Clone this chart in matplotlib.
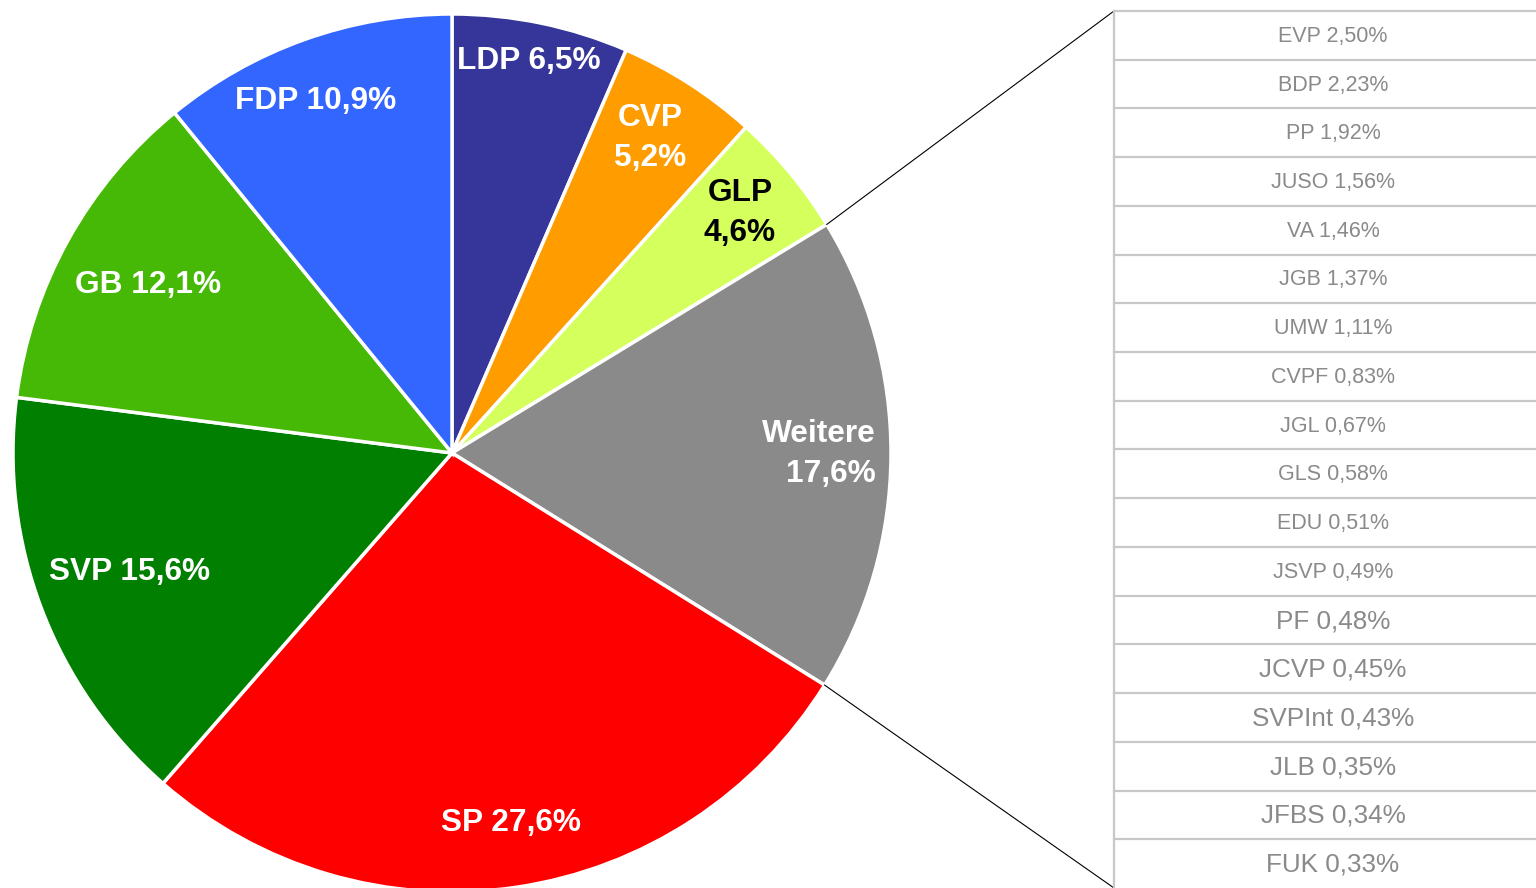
import numpy as np
import matplotlib.pyplot as plt

plt.rcParams['font.family'] = ['Liberation Sans', 'DejaVu Sans']

# Hauptparteien (Uhrzeigersinn ab 12 Uhr)
parties = ['LDP', 'CVP', 'GLP', 'Weitere', 'SP', 'SVP', 'GB', 'FDP']
shares = [6.5, 5.2, 4.6, 17.6, 27.6, 15.6, 12.1, 10.9]
colors = ['#35359A', '#FF9C00', '#D4FF5C', '#8A8A8A', '#FF0000', '#007F00', '#46B906', '#3366FF']
label_text = ['LDP 6,5%', 'CVP\n5,2%', 'GLP\n4,6%', 'Weitere\n17,6%', 'SP 27,6%',
              'SVP 15,6%', 'GB 12,1%', 'FDP 10,9%']
label_color = ['white', 'white', 'black', 'white', 'white', 'white', 'white', 'white']

# Weitere aufgeschlüsselt
others = ['EVP', 'BDP', 'PP', 'JUSO', 'VA', 'JGB', 'UMW', 'CVPF', 'JGL', 'GLS', 'EDU',
          'JSVP', 'PF', 'JCVP', 'SVPInt', 'JLB', 'JFBS', 'FUK']
others_pct = ['2,50', '2,23', '1,92', '1,56', '1,46', '1,37', '1,11', '0,83', '0,67',
              '0,58', '0,51', '0,49', '0,48', '0,45', '0,43', '0,35', '0,34', '0,33']

W, H = 1536, 888
fig = plt.figure(figsize=(W / 100, H / 100), dpi=100)
ax = fig.add_axes([0, 0, 1, 1])

cx, cy, r = 452, H - 453, 439
wedges, _ = ax.pie(shares, colors=colors, startangle=90, counterclock=False,
                   center=(cx, cy), radius=r, frame=True,
                   wedgeprops=dict(edgecolor='white', linewidth=2.5))

# Beschriftungen (Pixelpositionen, y von oben)
label_pos = [(529, 61, 'center'), (650, 138, 'center'), (740, 213, 'center'),
             (876, 454, 'right'), (511, 823, 'center'), (130, 572, 'center'),
             (148, 285, 'center'), (316, 101, 'center')]
for txt, col, (x, y, ha) in zip(label_text, label_color, label_pos):
    ax.text(x, H - y, txt, ha=ha, va='center', color=col, fontsize=22.8,
            fontweight='bold', multialignment=ha, linespacing=1.45)

# Verbindungslinien zur Tabelle
total = sum(shares)
cum = np.cumsum(shares) / total
i = parties.index('Weitere')
a0 = np.radians(90 - 360 * cum[i - 1])
a1 = np.radians(90 - 360 * cum[i])
tx0, ty_top, ty_bot = 1114, H - 11, H - 888
ax.plot([cx + r * np.cos(a0), tx0], [cy + r * np.sin(a0), ty_top], color='black', lw=0.8)
ax.plot([cx + r * np.cos(a1), tx0], [cy + r * np.sin(a1), ty_bot], color='black', lw=0.8)

# Tabelle
row_h = (ty_top - ty_bot) / len(others)
line_col = '#C8C8C8'
ax.plot([tx0, tx0], [ty_top, ty_bot], color=line_col, lw=1.6)
for k, (name, pct) in enumerate(zip(others, others_pct)):
    top = ty_top - k * row_h
    ax.plot([tx0, W], [top, top], color=line_col, lw=1.6)
    fs = 15.5 if k < 12 else 18.8
    ax.text((tx0 + W) / 2 + 8, top - row_h / 2 - 1, f'{name} {pct}%', ha='center', va='center',
            color='#8A8A8A', fontsize=fs)

ax.set_xlim(0, W)
ax.set_ylim(0, H)
ax.axis('off')

fig.savefig('out.png', dpi=100)
